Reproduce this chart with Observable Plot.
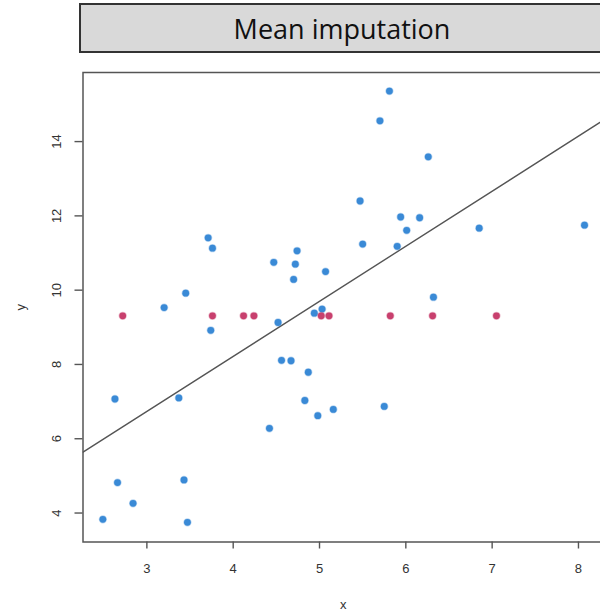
<!DOCTYPE html>
<html>
<head>
<meta charset="utf-8">
<script src="https://cdn.jsdelivr.net/npm/d3@7"></script>
<script src="https://cdn.jsdelivr.net/npm/@observablehq/plot@0.6"></script>
<style>
  html, body { margin: 0; padding: 0; background: #fff; overflow: hidden; width: 600px; height: 612px; }
  #wrap { position: relative; width: 606px; height: 612px; }
  #title {
    position: absolute; left: 79px; top: 3px; width: 522px; height: 46px;
    background: #d9d9d9; border: 2px solid #333; box-sizing: content-box;
    font-family: "Open Sans", sans-serif; font-size: 27px; color: #111;
    display: flex; align-items: center; justify-content: center;
  }
  #chart { position: absolute; left: 0; top: 60px; }
</style>
</head>
<body>
<div id="wrap">
  <div id="title">Mean imputation</div>
  <div id="chart"></div>
</div>
<script>
// Observed (blue) points
const observedX = [5.81,5.70,6.26,5.47,5.94,6.16,6.01,6.85,8.07,5.50,5.90,6.32,3.71,3.76,4.47,4.74,4.72,4.70,5.07,3.45,3.20,3.74,4.52,4.94,5.03,4.56,4.67,4.87,2.63,3.37,4.83,5.16,4.98,5.75,4.42,2.66,3.43,2.84,2.49,3.47];
const observedY = [15.36,14.56,13.59,12.40,11.97,11.95,11.61,11.67,11.75,11.24,11.18,9.81,11.41,11.13,10.75,11.06,10.70,10.29,10.50,9.92,9.53,8.92,9.13,9.38,9.49,8.11,8.10,7.79,7.07,7.10,7.03,6.79,6.62,6.87,6.28,4.82,4.89,4.26,3.83,3.75];
// Imputed (red) points: y set to the mean
const imputedX = [2.72,3.76,4.12,4.24,5.02,5.11,5.82,6.31,7.05];
const imputedMean = 9.31;
// Regression line
const lineIntercept = 2.29;
const lineSlope = 1.482;
// Axes
const xTicks = [3,4,5,6,7,8];
const yTicks = [4,6,8,10,12,14];
const xDomain = [2.26, 8.29];
const yDomain = [3.22, 15.86];

const observed = observedX.map((x, i) => ({x, y: observedY[i]}));
const imputed = imputedX.map(x => ({x, y: imputedMean}));
const lineData = xDomain.map(x => ({x, y: lineIntercept + lineSlope * x}));

const chart = Plot.plot({
  width: 606,
  height: 552,
  marginLeft: 82.5,
  marginRight: 3,
  marginTop: 12,
  marginBottom: 70.5,
  style: {fontFamily: "'Liberation Sans', Arial, sans-serif", fontSize: "13px", color: "#333", background: "#fff"},
  x: {domain: xDomain},
  y: {domain: yDomain},
  marks: [
    Plot.line(lineData, {x: "x", y: "y", stroke: "#555", strokeWidth: 1.4, clip: true}),
    Plot.dot(observed, {x: "x", y: "y", r: 3.4, fill: "#3a8ad6", stroke: "#3a8ad6", strokeOpacity: 0.35, strokeWidth: 1.5}),
    Plot.dot(imputed, {x: "x", y: "y", r: 3.4, fill: "#c8406e", stroke: "#c8406e", strokeOpacity: 0.35, strokeWidth: 1.5}),
    Plot.frame({stroke: "#555", strokeWidth: 1.5}),
    Plot.axisX({ticks: xTicks, tickFormat: "d", tickSize: 7, tickPadding: 15, stroke: "#555", strokeWidth: 1.4,
      label: "x", labelAnchor: "center", labelArrow: "none", labelOffset: 67}),
    Plot.axisY({ticks: yTicks, tickFormat: "d", tickSize: 8, tickPadding: 14, tickRotate: -90, stroke: "#555", strokeWidth: 1.4,
      label: "y", labelAnchor: "center", labelArrow: "none", labelOffset: 67})
  ]
});
document.getElementById("chart").appendChild(chart);
</script>
</body>
</html>
